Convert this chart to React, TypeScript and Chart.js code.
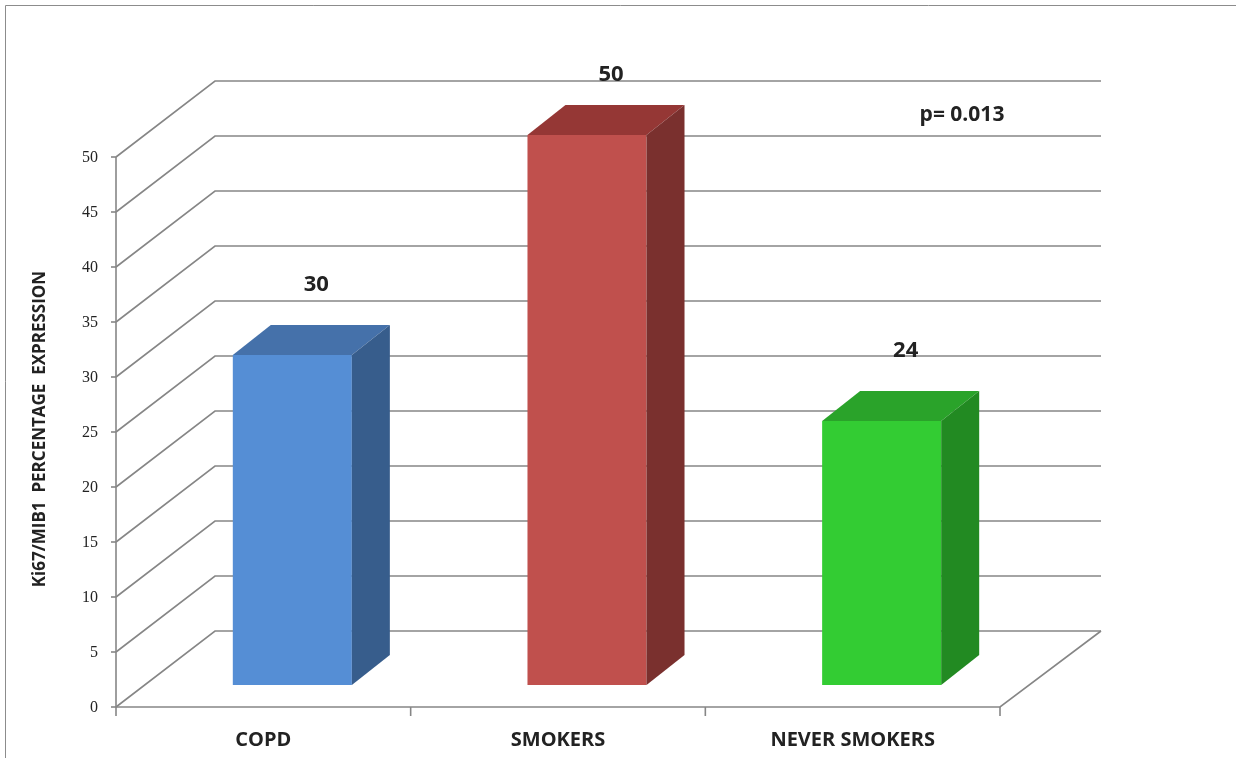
import React, { useEffect, useRef } from "react";
import { Chart, registerables } from "chart.js";

Chart.register(...registerables);

const categories = ["COPD", "SMOKERS", "NEVER SMOKERS"];
const values = [30, 50, 24];
const frontColors = ["#558ED5", "#C0504D", "#33CC33"];
const topColors = ["#4571AA", "#953735", "#2AA32A"];
const sideColors = ["#375D8C", "#7A302E", "#228A22"];
const yTicks = [0, 5, 10, 15, 20, 25, 30, 35, 40, 45, 50];
const yAxisTitle = "Ki67/MIB1  PERCENTAGE  EXPRESSION";
const annotationText = "p= 0.013";

// 3D geometry offsets (relative to the plane of the bars' front faces)
const FRONT = { dx: -29, dy: 22 };
const BACK = { dx: 70, dy: -54 };
const DEPTH = { dx: 38, dy: -30 };

const GRID = "#868686";
const TEXT = "#222222";
const SANS = "'Open Sans', 'Liberation Sans', sans-serif";

const threeDPlugin = {
  id: "threeD",
  beforeDatasetsDraw(chart: any) {
    const { ctx, chartArea, scales } = chart;
    const ys = scales.y;
    const xs = scales.x;
    ctx.save();
    // outer frame
    ctx.strokeStyle = "#8c8c8c";
    ctx.lineWidth = 1;
    ctx.beginPath();
    ctx.moveTo(5.5, chart.height);
    ctx.lineTo(5.5, 5.5);
    ctx.lineTo(chart.width, 5.5);
    ctx.stroke();

    const fl = chartArea.left + FRONT.dx;
    const fr = chartArea.right + FRONT.dx;
    const bl = chartArea.left + BACK.dx;
    const br = chartArea.right + BACK.dx + 2;

    ctx.strokeStyle = GRID;
    ctx.lineWidth = 1.6;
    ctx.font = "16px 'Liberation Serif', serif";
    ctx.fillStyle = TEXT;
    ctx.textAlign = "right";
    ctx.textBaseline = "middle";
    for (const t of yTicks) {
      const py = ys.getPixelForValue(t);
      const fy = py + FRONT.dy;
      const by = py + BACK.dy;
      ctx.beginPath();
      ctx.moveTo(fl, fy);
      ctx.lineTo(bl, by);
      ctx.lineTo(br, by);
      ctx.stroke();
      ctx.beginPath();
      ctx.moveTo(fl - 5, fy);
      ctx.lineTo(fl, fy);
      ctx.stroke();
      ctx.fillText(String(t), fl - 18, fy + 1);
    }
    const y0 = ys.getPixelForValue(0);
    const yTop = ys.getPixelForValue(yTicks[yTicks.length - 1]);
    // vertical axis
    ctx.beginPath();
    ctx.moveTo(fl, yTop + FRONT.dy);
    ctx.lineTo(fl, y0 + FRONT.dy + 9);
    ctx.stroke();
    // floor front edge + right edge
    ctx.beginPath();
    ctx.moveTo(fl, y0 + FRONT.dy);
    ctx.lineTo(fr, y0 + FRONT.dy);
    ctx.lineTo(br, y0 + BACK.dy);
    ctx.stroke();
    // category boundary ticks
    const n = categories.length;
    const step = (chartArea.right - chartArea.left) / n;
    for (let i = 1; i <= n; i++) {
      const px = fl + step * i;
      ctx.beginPath();
      ctx.moveTo(px, y0 + FRONT.dy);
      ctx.lineTo(px, y0 + FRONT.dy + 9);
      ctx.stroke();
    }
    // category labels
    ctx.font = `bold 20px ${SANS}`;
    ctx.textAlign = "center";
    ctx.textBaseline = "middle";
    categories.forEach((c, i) => {
      ctx.fillText(c, xs.getPixelForValue(i) + FRONT.dx, y0 + FRONT.dy + 33);
    });
    // y axis title
    ctx.save();
    ctx.translate(40, (yTop + y0) / 2 + FRONT.dy - 3);
    ctx.rotate(-Math.PI / 2);
    ctx.font = `bold 17px ${SANS}`;
    ctx.fillText(yAxisTitle, 0, 0);
    ctx.restore();
    ctx.restore();
  },
  afterDatasetsDraw(chart: any) {
    const { ctx } = chart;
    const meta = chart.getDatasetMeta(0);
    ctx.save();
    meta.data.forEach((bar: any, i: number) => {
      const { x, y, base, width } = bar.getProps(["x", "y", "base", "width"], true);
      const l = x - width / 2;
      const r = x + width / 2;
      // top face
      ctx.fillStyle = topColors[i];
      ctx.beginPath();
      ctx.moveTo(l, y);
      ctx.lineTo(r, y);
      ctx.lineTo(r + DEPTH.dx, y + DEPTH.dy);
      ctx.lineTo(l + DEPTH.dx, y + DEPTH.dy);
      ctx.closePath();
      ctx.fill();
      // side face
      ctx.fillStyle = sideColors[i];
      ctx.beginPath();
      ctx.moveTo(r, y);
      ctx.lineTo(r + DEPTH.dx, y + DEPTH.dy);
      ctx.lineTo(r + DEPTH.dx, base + DEPTH.dy);
      ctx.lineTo(r, base);
      ctx.closePath();
      ctx.fill();
      // value label
      ctx.fillStyle = TEXT;
      ctx.font = `bold 22px ${SANS}`;
      ctx.textAlign = "center";
      ctx.textBaseline = "middle";
      ctx.fillText(String(values[i]), x + 24, Math.max(y - 70, 75));
    });
    // annotation
    ctx.font = `bold 21px ${SANS}`;
    ctx.textAlign = "center";
    ctx.textBaseline = "middle";
    ctx.fillStyle = TEXT;
    ctx.fillText(annotationText, chart.chartArea.right - 67, 115);
    ctx.restore();
  },
};

export default function App() {
  const ref = useRef<HTMLCanvasElement | null>(null);
  useEffect(() => {
    if (!ref.current) return;
    const chart = new Chart(ref.current, {
      type: "bar",
      data: {
        labels: categories,
        datasets: [
          {
            data: values,
            backgroundColor: frontColors,
            borderWidth: 0,
            barPercentage: 0.404,
            categoryPercentage: 1,
          },
        ],
      },
      options: {
        responsive: false,
        animation: false,
        events: [],
        layout: { padding: { left: 145, right: 207, top: 135, bottom: 73 } },
        plugins: { legend: { display: false }, tooltip: { enabled: false } },
        scales: {
          x: { display: false },
          y: { display: false, min: 0, max: 50 },
        },
      },
      plugins: [threeDPlugin],
    });
    return () => chart.destroy();
  }, []);
  return (
    <div style={{ position: "absolute", left: 0, top: 0, width: 1236, height: 758, background: "#fff" }}>
      <canvas ref={ref} width={1236} height={758} style={{ display: "block" }} />
    </div>
  );
}
